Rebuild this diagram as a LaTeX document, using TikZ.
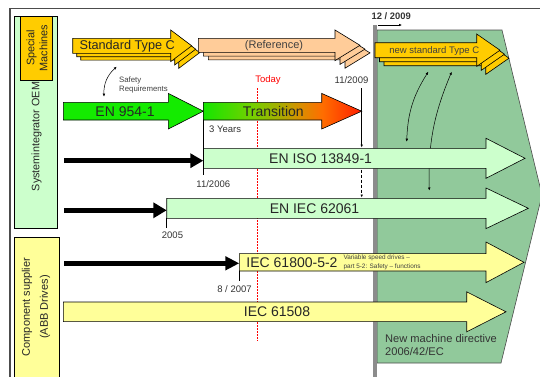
\documentclass[tikz,border=0pt]{standalone}
\usepackage{fontspec}
\setmainfont{Liberation Sans}
\usetikzlibrary{arrows.meta}

\definecolor{gold}{RGB}{255,204,0}
\definecolor{peach}{RGB}{255,204,153}
\definecolor{mint}{RGB}{204,255,204}
\definecolor{lemon}{RGB}{255,255,153}
\definecolor{sage}{RGB}{145,201,155}
\definecolor{lime}{RGB}{20,235,0}

\pgfdeclarehorizontalshading{transit}{100bp}{rgb(0bp)=(0.08,0.9,0); rgb(25bp)=(0.08,0.9,0);
  rgb(40bp)=(0.45,0.82,0); rgb(49.5bp)=(0.67,0.67,0); rgb(56bp)=(0.86,0.55,0);
  rgb(62.5bp)=(1,0.43,0); rgb(75bp)=(1,0.12,0); rgb(100bp)=(1,0.12,0)}

% block arrow: style, left x, head base x, tip x, centre y, half shaft, half head
\newcommand{\blockarrow}[7]{%
  \draw[#1] (#2,#5-#6) -- (#3,#5-#6) -- (#3,#5-#7) -- (#4,#5)
    -- (#3,#5+#7) -- (#3,#5+#6) -- (#2,#5+#6) -- cycle;}

\begin{document}
\begin{tikzpicture}[x=1pt,y=-1pt,
    every edge/.style={draw, line width=0.5pt},
    lbl/.style={inner sep=0pt, font=\fontsize{14}{16}\selectfont, text=black!85},
    note/.style={inner sep=0pt, font=\fontsize{9.5}{11}\selectfont, text=black!80},
    tip/.style={-{Latex[length=3pt,width=2.6pt]}},
    fat/.style={line width=5pt, -{Triangle[length=13pt,width=14pt]}},
    outline/.style={draw=black, line width=0.6pt}]

        \clip (0,0) rectangle (540,376);

        % frame and left column
        \draw[black!70, line width=1.2pt] (10,390) -- (10,8.3) -- (560,8.3);
        \draw[outline, fill=mint] (14,16) rectangle (57.3,228);
        \draw[outline, fill=gold] (20,16) rectangle (52,80);
        \draw[outline, fill=lemon] (14,237) rectangle (59.3,390);

        % new directive area
        \draw[draw=black!70, line width=0.6pt, fill=sage]
          (377,30) -- (502,30) -- (542,195) -- (501,363) -- (377,363) -- cycle;
        \fill[black!45] (372.7,25) rectangle (377.3,390);

        % today
        \coordinate (r1) at (257.3,88);
        \coordinate (r2) at (257.3,341);
        \draw[red, line width=1.5pt, dash pattern=on 1.5pt off 1.5pt] (r1) -- (r2);

        % stacked type C arrows
        \foreach \k in {2,1,0} {
          \begin{scope}[shift={(4*\k,3.4*\k)}]
            \blockarrow{outline, fill=gold}{72.7}{170.7}{191.7}{45.8}{7.5}{15.8}
          \end{scope}
          \begin{scope}[shift={(5*\k,3.8*\k)}]
            \blockarrow{outline, fill=peach}{198.3}{335}{360}{45.3}{7}{15.3}
          \end{scope}
          \begin{scope}[shift={(4.5*\k,4*\k)}]
            \blockarrow{outline, fill=gold}{375}{476.7}{500}{50.2}{7.5}{16.2}
          \end{scope}
        }

        \begin{scope}
          \coordinate (c1) at (116.7,66.7);
          \coordinate (c2) at (104,96.7);
          \coordinate (c3) at (428.3,71.7);
          \coordinate (c4) at (406.7,141.7);
          \coordinate (c5) at (451.7,71.7);
          \coordinate (c6) at (429.3,190.5);
        \end{scope}

        \begin{scope}[every edge/.style={draw, line width=0.5pt, {Latex[length=3pt,width=2.6pt]}-{Latex[length=3pt,width=2.6pt]}}]
          \path (c1) edge[bend right=25] (c2);
          \path (c3) edge[bend right=15] (c4);
          \path (c5) edge[bend right=12] (c6);
        \end{scope}

        % standards
        \blockarrow{outline, fill=lime}{63.3}{168.3}{203.3}{111.2}{8.8}{17.8}
        \blockarrow{outline, shading=transit}{203.3}{321.7}{361.7}{111.2}{8.8}{17.8}
        \blockarrow{outline, fill=mint}{203.3}{486}{525}{158.3}{10}{20}
        \blockarrow{outline, fill=mint}{166.7}{486}{528.3}{208.3}{10}{20.3}
        \blockarrow{outline, fill=lemon}{239.3}{486}{524}{262.3}{8.7}{20.3}
        \blockarrow{outline, fill=lemon}{63.3}{466.7}{506}{311.8}{9.8}{20}

        % texts
        \node[inner sep=0pt, rotate=90, align=center, font=\fontsize{10.9}{13}\selectfont, text=black!85] (1) at (37,48) {Special\\Machines};
        \node[inner sep=0pt, rotate=90, font=\fontsize{10.8}{13}\selectfont, text=black!85] (2) at (36.7,136.5) {Systemintegrator OEM};
        \node[inner sep=0pt, rotate=90, align=center, font=\fontsize{11}{13}\selectfont, text=black!85] (3) at (36,307) {Component supplier\\[5pt](ABB Drives)};
        \node[lbl, font=\fontsize{12.7}{15}\selectfont] (4) at (127.2,45.8) {Standard Type C};
        \node[lbl, font=\fontsize{11}{13}\selectfont, text=black!75] (5) at (274,46) {(Reference)};
        \node[lbl, font=\fontsize{9.5}{11}\selectfont, text=black!75] (6) at (434.3,51) {new standard Type C};
        \node[lbl] (7) at (125,111.2) {EN 954-1};
        \node[lbl] (8) at (273.3,111.2) {Transition};
        \node[note, anchor=west] (9) at (209,129.3) {3 Years};
        \node[lbl] (10) at (320.6,158.3) {EN ISO 13849-1};
        \node[note] (11) at (213.3,184.3) {11/2006};
        \node[lbl] (12) at (314.5,208.5) {EN IEC 62061};
        \node[note] (13) at (172.5,235.3) {2005};
        \node[lbl] (14) at (292,262.3) {IEC 61800-5-2};
        \node[inner sep=0pt, anchor=west, align=left, font=\fontsize{6.4}{8.7}\selectfont, text=black!75] (15) at (343.3,262.5) {Variable speed drives --\\part 5-2: Safety -- functions};
        \node[note] (16) at (234.5,289.3) {8 / 2007};
        \node[lbl] (17) at (277,312) {IEC 61508};
        \node[inner sep=0pt, anchor=west, align=left, font=\fontsize{11.1}{12.7}\selectfont, text=black!80] (18) at (385,344.7) {New machine directive\\2006/42/EC};
        \node[note, font=\bfseries\fontsize{9.4}{11}\selectfont] (19) at (391.2,16) {12 / 2009};
        \node[note, text=red] (20) at (268,80.5) {Today};
        \node[note] (21) at (351.5,80.5) {11/2009};
        \node[inner sep=0pt, anchor=west, align=left, font=\fontsize{7.8}{9.3}\selectfont, text=black!75] (22) at (119,84.7) {Safety\\Requirements};

        % markers
        \coordinate (s1) at (64,160.7);
        \coordinate (e1) at (203.3,160.7);
        \coordinate (s2) at (64,210.3);
        \coordinate (e2) at (166.7,210.3);
        \coordinate (s3) at (64,263.3);
        \coordinate (e3) at (239.3,263.3);
        \draw[fat] (s1) -- (e1);
        \draw[fat, -{Triangle[length=13.4pt,width=15pt]}] (s2) -- (e2);
        \draw[fat, -{Triangle[length=14pt,width=13.3pt]}] (s3) -- (e3);

        \draw[line width=0.6pt] (203.3,120) -- (203.3,175);
        \draw[line width=0.6pt] (166.7,218.3) -- (166.7,227.7);
        \draw[line width=0.6pt] (239.3,271) -- (239.3,281);

        \coordinate (t1) at (361.7,88);
        \coordinate (t2) at (361.7,147.5);
        \coordinate (t3) at (361.7,169.5);
        \coordinate (t4) at (361.7,197.5);
        \draw[tip, line width=0.6pt] (t1) -- (t2);
        \draw[tip, line width=0.6pt, dash pattern=on 3pt off 2pt] (t3) -- (t4);

        \coordinate (d1) at (378,25);
        \coordinate (d2) at (402,25);
        \draw[tip, line width=0.6pt] (d1) -- (d2);

      \end{tikzpicture}
\end{document}
